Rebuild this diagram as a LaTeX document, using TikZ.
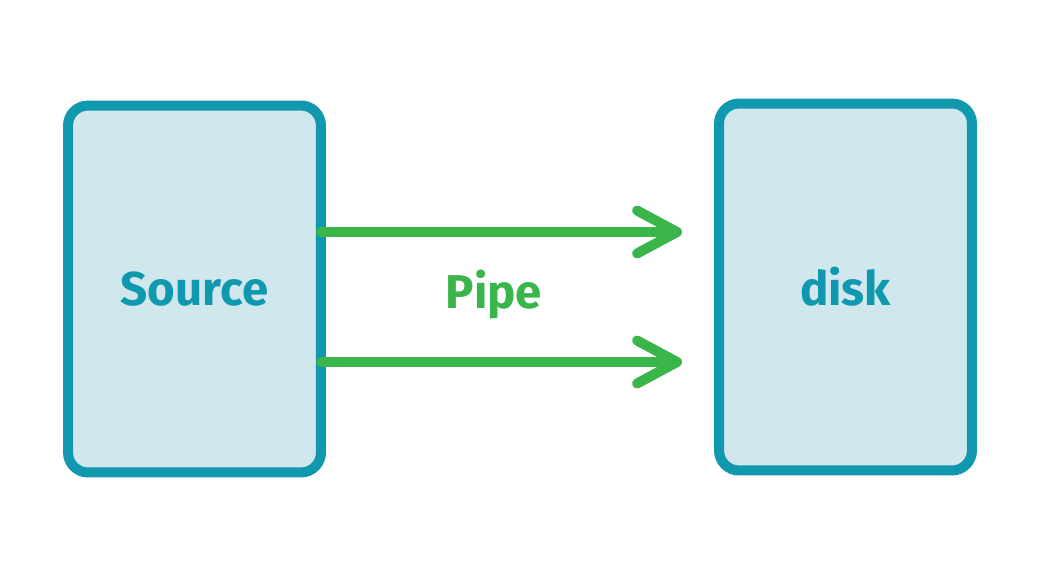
\documentclass[tikz,border=0pt]{standalone}
\usepackage{fontspec}
\setmainfont{Fira Sans}
\usetikzlibrary{arrows.meta}
\definecolor{boxline}{HTML}{0F98AE}
\definecolor{boxfill}{HTML}{D0E8ED}
\definecolor{pipegreen}{HTML}{39B54A}
\newcommand{\lbl}{\fontsize{27}{30}\selectfont\bfseries}

\begin{document}
\begin{tikzpicture}[x=0.02cm,y=-0.02cm,
    store/.style={draw=boxline,fill=boxfill,line width=0.2cm,rounded corners=0.4cm,
                  minimum width=5.06cm,minimum height=7.34cm,inner sep=0pt,outer sep=0pt,
                  text=boxline,font=\lbl},
    pipe/.style={draw=pipegreen,line width=0.2cm,line cap=round,
                 -{Straight Barb[length=0.8cm,width=0.86cm,line cap=round,line join=round]}}]
  \useasboundingbox (0,0) rectangle (1040,576);
  \node[store] (src) at (194.5,289) {Source};
  \node[store] (dsk) at (845.5,287) {disk};
  % the two pipes
  \coordinate (up) at (500,232);
  \coordinate (dn) at (500,362);
  \draw[pipe,shorten >=0.74cm] (src.east |- up) -- (dsk.west |- up);
  \draw[pipe,shorten >=0.74cm] (src.east |- dn) -- (dsk.west |- dn);
  \node[text=pipegreen,font=\lbl] (lbl) at (494,295) {Pipe};
\end{tikzpicture}
\end{document}
